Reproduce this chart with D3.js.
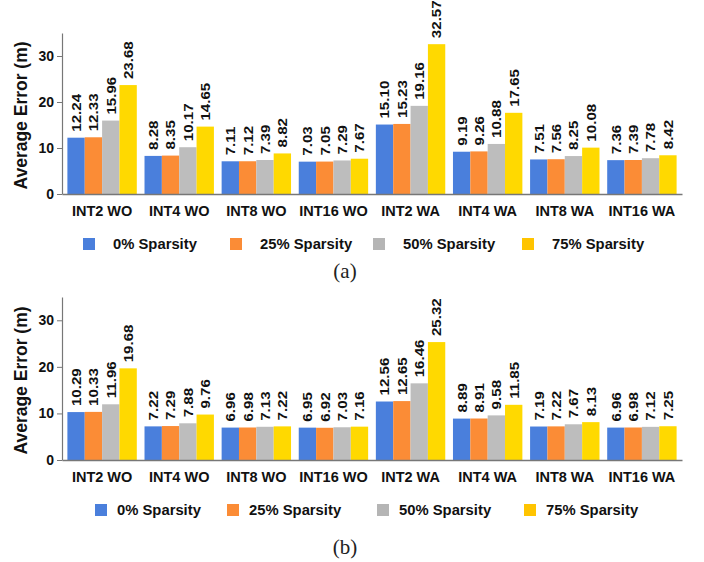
<!DOCTYPE html>
<html>
<head>
<meta charset="utf-8">
<script src="https://cdn.jsdelivr.net/npm/d3@7"></script>
<style>
  html, body { margin: 0; padding: 0; background: #fff; }
  svg { display: block; }
</style>
</head>
<body>
<svg id="chart" width="704" height="562"></svg>
<script>
const categories = ["INT2 WO", "INT4 WO", "INT8 WO", "INT16 WO", "INT2 WA", "INT4 WA", "INT8 WA", "INT16 WA"];
const seriesNames = ["0% Sparsity", "25% Sparsity", "50% Sparsity", "75% Sparsity"];
const yTicks = [0, 10, 20, 30];

// Panel (a)
const a_s0  = [12.24, 8.28, 7.11, 7.03, 15.10, 9.19, 7.51, 7.36];
const a_s25 = [12.33, 8.35, 7.12, 7.05, 15.23, 9.26, 7.56, 7.39];
const a_s50 = [15.96, 10.17, 7.39, 7.29, 19.16, 10.88, 8.25, 7.78];
const a_s75 = [23.68, 14.65, 8.82, 7.67, 32.57, 17.65, 10.08, 8.42];

// Panel (b)
const b_s0  = [10.29, 7.22, 6.96, 6.95, 12.56, 8.89, 7.19, 6.96];
const b_s25 = [10.33, 7.29, 6.98, 6.92, 12.65, 8.91, 7.22, 6.98];
const b_s50 = [11.96, 7.88, 7.13, 7.03, 16.46, 9.58, 7.67, 7.12];
const b_s75 = [19.68, 9.76, 7.22, 7.16, 25.32, 11.85, 8.13, 7.25];

const barColors = ["#4a7fdc", "#fb8c36", "#bdbdbd", "#ffd900"];
const legendColors = ["#4a7fdc", "#fb8c36", "#b5b5b5", "#ffc400"];

const svg = d3.select("#chart");
const FONT = "'Liberation Sans', Arial, Helvetica, sans-serif";

function panel(cfg) {
  const series = cfg.series;
  const g = svg.append("g");
  const x = d3.scaleBand().domain(categories).range([62, 682]).paddingInner(0.1).paddingOuter(0.07);
  const xi = d3.scaleBand().domain(d3.range(4)).range([0, x.bandwidth()]).padding(0);
  const y = d3.scaleLinear().domain([0, 35]).range([cfg.y0, cfg.yTop]);

  // bars
  categories.forEach((c, ci) => {
    const grp = g.append("g").attr("transform", `translate(${x(c)},0)`);
    series.forEach((s, si) => {
      grp.append("rect")
        .attr("x", xi(si)).attr("width", xi.bandwidth())
        .attr("y", y(s[ci])).attr("height", y(0) - y(s[ci]))
        .attr("fill", barColors[si]);
      const cx = xi(si) + xi.bandwidth() / 2;
      grp.append("text")
        .attr("transform", `translate(${cx},${y(s[ci]) - 6}) rotate(-90) scale(1.12,1)`)
        .attr("dy", "0.36em")
        .attr("text-anchor", "start")
        .style("font-family", FONT).style("font-weight", "bold").style("font-size", "13.5px")
        .attr("fill", "#111")
        .text(s[ci].toFixed(2));
    });
  });

  // y axis
  const yAxis = d3.axisLeft(y).tickValues(yTicks).tickSizeInner(5).tickSizeOuter(0).tickPadding(3).tickFormat(d3.format("d"));
  const ya = g.append("g").attr("transform", "translate(62,0)").call(yAxis);
  ya.select(".domain").attr("stroke", "#777").attr("stroke-width", 1.2);
  ya.selectAll(".tick line").attr("stroke", "#777");
  ya.selectAll(".tick text").style("font-family", FONT).style("font-weight", "bold").style("font-size", "14px").attr("fill", "#111");

  // x axis
  const xAxis = d3.axisBottom(x).tickSize(0).tickPadding(12);
  const xa = g.append("g").attr("transform", `translate(0,${cfg.y0})`).call(xAxis);
  xa.select(".domain").attr("stroke", "#777").attr("stroke-width", 1.5);
  xa.selectAll(".tick text").style("font-family", FONT).style("font-weight", "bold").style("font-size", "14.5px").attr("fill", "#111");

  // y title
  g.append("text")
    .attr("transform", `translate(${cfg.titleX},${(cfg.y0 + cfg.yTop) / 2 + 2}) rotate(-90)`)
    .attr("text-anchor", "middle").attr("dy", "0.36em")
    .style("font-family", FONT).style("font-weight", "bold").style("font-size", "17.5px")
    .attr("fill", "#111")
    .text("Average Error (m)");

  // legend
  seriesNames.forEach((n, i) => {
    const lx = cfg.legendX[i];
    g.append("rect").attr("x", lx).attr("y", cfg.legendY - 6).attr("width", 12).attr("height", 12).attr("fill", legendColors[i]);
    g.append("text").attr("x", lx + cfg.legendGap).attr("y", cfg.legendY).attr("dy", "0.36em")
      .style("font-family", FONT).style("font-weight", "bold").style("font-size", "14.8px").attr("fill", "#111")
      .text(n);
  });

  // caption
  g.append("text").attr("x", 345).attr("y", cfg.captionY).attr("text-anchor", "middle")
    .style("font-family", "'Liberation Serif', 'Times New Roman', serif").style("font-size", "21px").attr("fill", "#222")
    .text(cfg.caption);
}

panel({
  series: [a_s0, a_s25, a_s50, a_s75],
  y0: 194, yTop: 33, titleX: 21,
  legendX: [83, 230, 373, 522], legendGap: 30, legendY: 244,
  captionY: 278, caption: "(a)"
});
panel({
  series: [b_s0, b_s25, b_s50, b_s75],
  y0: 460, yTop: 297, titleX: 21,
  legendX: [95, 227, 377, 524], legendGap: 22, legendY: 510,
  captionY: 554, caption: "(b)"
});
</script>
</body>
</html>
